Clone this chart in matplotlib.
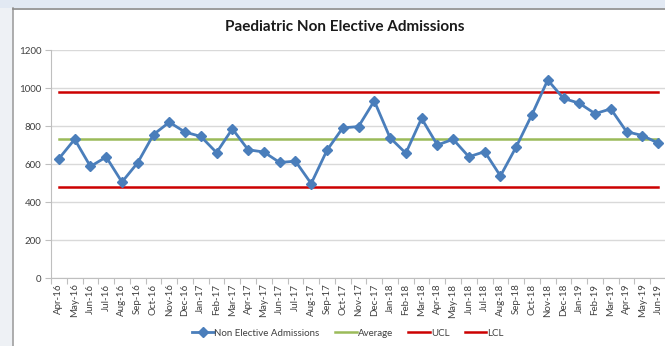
import matplotlib.pyplot as plt
from matplotlib.patches import Rectangle
from matplotlib.lines import Line2D

months = ["Apr-16", "May-16", "Jun-16", "Jul-16", "Aug-16", "Sep-16", "Oct-16", "Nov-16",
          "Dec-16", "Jan-17", "Feb-17", "Mar-17", "Apr-17", "May-17", "Jun-17", "Jul-17",
          "Aug-17", "Sep-17", "Oct-17", "Nov-17", "Dec-17", "Jan-18", "Feb-18", "Mar-18",
          "Apr-18", "May-18", "Jun-18", "Jul-18", "Aug-18", "Sep-18", "Oct-18", "Nov-18",
          "Dec-18", "Jan-19", "Feb-19", "Mar-19", "Apr-19", "May-19", "Jun-19"]
admissions = [628, 730, 587, 637, 505, 607, 755, 820, 768, 745, 660, 785, 675, 663,
              608, 615, 497, 672, 790, 797, 932, 738, 657, 840, 700, 730, 638, 665,
              537, 690, 860, 1042, 945, 920, 865, 890, 770, 750, 710]
average = 729
ucl = 980
lcl = 478

plt.rcParams["font.family"] = ["Lato", "DejaVu Sans"]

fig = plt.figure(figsize=(6.65, 3.46), dpi=100)
fig.patch.set_facecolor("white")
# window chrome around the chart
fig.add_artist(Rectangle((0, 0), 13 / 665, 1, transform=fig.transFigure,
                         facecolor="#eef1f5", edgecolor="none", zorder=0))
fig.add_artist(Rectangle((0, 1 - 8 / 346), 1, 8 / 346, transform=fig.transFigure,
                         facecolor="#e2e9f3", edgecolor="none", zorder=0))
fig.add_artist(Line2D([13 / 665, 13 / 665], [0, 1 - 8 / 346], transform=fig.transFigure,
                      color="#a0a0a0", lw=1.2))
fig.add_artist(Line2D([13 / 665, 1], [1 - 8.5 / 346, 1 - 8.5 / 346], transform=fig.transFigure,
                      color="#8a8a8a", lw=1.2))

ax = fig.add_axes([51 / 665, 1 - 278 / 346, 615 / 665, 228 / 346])
x = list(range(len(months)))

ax.plot(x, admissions, color="#4a7ebb", lw=2, marker="D", ms=5, zorder=5,
        label="Non Elective Admissions")
ax.plot(x, [average] * len(x), color="#9bbb59", lw=1.8, zorder=4, label="Average")
ax.plot(x, [ucl] * len(x), color="#cc0000", lw=1.8, zorder=4, label="UCL")
ax.plot(x, [lcl] * len(x), color="#cc0000", lw=1.8, zorder=4, label="LCL")

ax.set_xlim(-0.5, len(months) - 0.5)
ax.set_ylim(0, 1200)
ax.set_yticks(range(0, 1201, 200))
ax.yaxis.grid(True, color="#d9d9d9", lw=1)
ax.set_axisbelow(True)

# category boundaries carry the tick marks, labels sit on the categories
ax.set_xticks([i - 0.5 for i in range(len(months) + 1)], minor=False)
ax.set_xticklabels([])
ax.set_xticks(x, minor=True)
ax.set_xticklabels(months, minor=True, rotation=90, fontsize=7, color="#404040")
ax.tick_params(axis="x", which="major", length=4, color="#bfbfbf", direction="out")
ax.tick_params(axis="x", which="minor", length=0, pad=4)
ax.tick_params(axis="y", length=4, color="#bfbfbf", labelsize=7, labelcolor="#404040", pad=3)

for side in ("top", "right"):
    ax.spines[side].set_visible(False)
ax.spines["left"].set_color("#bfbfbf")
ax.spines["bottom"].set_color("#bfbfbf")

fig.text(345 / 665, 1 - 27 / 346, "Paediatric Non Elective Admissions",
         ha="center", va="center", fontsize=11, fontweight="bold", color="#1a1a1a")

fig.legend(loc="center", bbox_to_anchor=(348 / 665, 1 - 333 / 346), ncol=4,
           frameon=False, fontsize=7, handlelength=2.2, handletextpad=0.1,
           columnspacing=1.6, labelcolor="#404040")

fig.savefig("out.png", dpi=100)
